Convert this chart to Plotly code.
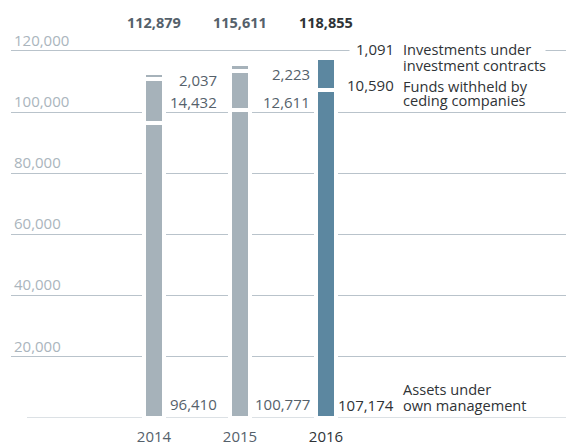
import plotly.graph_objects as go

# ---------------- data ----------------
years = ["2014", "2015", "2016"]
own_management = [96410, 100777, 107174]
funds_withheld = [14432, 12611, 10590]
investment_contracts = [2037, 2223, 1091]
totals = [112879, 115611, 118855]
tick_values = [20000, 40000, 60000, 80000, 100000, 120000]
tick_labels = ["20,000", "40,000", "60,000", "80,000", "100,000", "120,000"]
series_names = ["Assets under own management", "Funds withheld by ceding companies",
                "Investments under investment contracts"]
legend_lines = [["Assets under", "own management"],
                ["Funds withheld by", "ceding companies"],
                ["Investments under", "investment contracts"]]

# ---------------- style ----------------
GRAY = "#a6b2ba"
BLUE = "#5c87a0"
GRID = "#b9c3cb"
TXT_OLD = "#55616b"
TXT_NEW = "#2f3336"
TICK = "#aab5bd"
FONT = "Open Sans"
FS = 15
FS_TOT = 14.5
FS_TXT = 14.6

# page body adds an 8px offset; layout is computed in window pixels
OFF = 8
W, H = 574, 444
ML, MR, MT, MB = 11 - OFF, 0, 0, 34
PW, PH = W - ML - MR, H - MT - MB
Y_MAX = PH / 0.00306
X0_PX, X_STEP = 154, 86  # window px of first bar centre, px per category

bar_colors = [GRAY, GRAY, BLUE]
xpos = list(range(len(years)))
fig = go.Figure()
for name, vals in zip(series_names, [own_management, funds_withheld, investment_contracts]):
    fig.add_trace(go.Bar(
        x=xpos, y=vals, name=name, width=0.24,
        marker=dict(color=bar_colors, line=dict(color="white", width=4)),
        hoverinfo="skip",
    ))


def px_x(p):  # window px -> paper x
    return (p - OFF - ML) / PW


def px_y(p):  # window px -> paper y
    return (MT + PH - (p - OFF)) / PH


ann = []
txt_colors = [TXT_OLD, TXT_OLD, TXT_NEW]
bar_px = [154, 240, 325.7]

# totals on top (bold)
for i, t in enumerate(totals):
    ann.append(dict(x=px_x(bar_px[i]), y=px_y(22), xref="paper", yref="paper",
                    text=f"<b>{t:,}</b>", showarrow=False, xanchor="center", yanchor="middle",
                    font=dict(family=FONT, size=FS_TOT, color=txt_colors[i])))

# segment value labels: (right edge px, y px)
num_right = [219, 312, 396]
top_y = [80, 74, 49]
mid_y = [102, 102, 85]
bot_y = [404, 404, 405]
for i in range(3):
    for vals, yy in [(investment_contracts, top_y), (funds_withheld, mid_y), (own_management, bot_y)]:
        white = (i == 2 and vals is investment_contracts)
        ann.append(dict(x=px_x(num_right[i] + (5 if white else 0)), y=px_y(yy[i]),
                        xref="paper", yref="paper",
                        text=f"{vals[i]:,}", showarrow=False, xanchor="right", yanchor="middle",
                        bgcolor="white" if white else None, borderpad=6 if white else 1,
                        font=dict(family=FONT, size=FS, color=txt_colors[i])))

# legend text to the right of the 2016 values
leg_y = [[389, 405], [86, 100], [49, 65]]
for lines, ys in zip(legend_lines, leg_y):
    for j, (line, yy) in enumerate(zip(lines, ys)):
        is_top = line == "Investments under"
        ann.append(dict(x=px_x(404 - (8 if is_top else 3)), y=px_y(yy), xref="paper", yref="paper",
                        text=line + ("\u00a0\u00a0" if is_top else ""),
                        showarrow=False, xanchor="left", yanchor="middle",
                        bgcolor="white" if is_top else None, borderpad=6 if is_top else 1,
                        font=dict(family=FONT, size=FS_TXT, color=TXT_NEW)))

# draw second line of the top group last so it sits above the white box
ann.sort(key=lambda a: 1 if a["text"].startswith("investment contracts") else 0)

year_text = [y if i < 2 else f"<span style='color:{TXT_NEW}'>{y}</span>" for i, y in enumerate(years)]

fig.update_layout(
    width=W, height=H,
    margin=dict(l=ML, r=MR, t=MT, b=MB, pad=0),
    paper_bgcolor="white", plot_bgcolor="white",
    barmode="stack", showlegend=False, bargap=0,
    font=dict(family=FONT, size=FS, color=TXT_OLD),
    xaxis=dict(range=[(11 - X0_PX) / X_STEP, (W + OFF - MR - X0_PX) / X_STEP],
               tickvals=xpos, ticktext=year_text,
               showgrid=False, zeroline=False, showline=False, ticks="",
               tickfont=dict(family=FONT, size=FS, color=TXT_OLD), ticklabelstandoff=8,
               fixedrange=True),
    yaxis=dict(range=[0, Y_MAX], tickvals=tick_values, ticktext=tick_labels,
               showgrid=True, gridcolor=GRID, gridwidth=1, zeroline=False, showline=False,
               ticks="", ticklabelposition="inside top",
               tickfont=dict(family=FONT, size=FS, color=TICK), fixedrange=True),
    shapes=[dict(type="line", xref="paper", yref="y", x0=px_x(27), x1=1, y0=0, y1=0,
                 line=dict(color=GRID, width=1), layer="below")],
    annotations=ann,
)

fig.write_html("out.html")
